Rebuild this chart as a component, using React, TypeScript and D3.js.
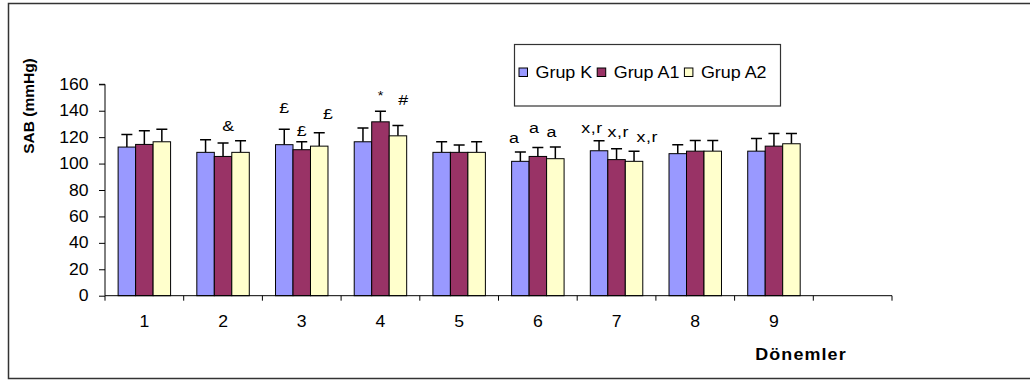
import React, { useRef, useEffect } from 'react';
import * as d3 from 'd3';

// periods on the x axis (the 10th slot is left empty, as in the original sheet)
const categories = ['1', '2', '3', '4', '5', '6', '7', '8', '9', ''];
const groups = ['Grup K', 'Grup A1', 'Grup A2'];
const colors = ['#9999FF', '#993366', '#FFFFCC'];

// mean SAB (mmHg) per period
const grupK = [112.5, 108.5, 114.3, 116.5, 108.5, 101.7, 109.7, 107.5, 109.4];
const grupA1 = [114.5, 105.4, 110.5, 131.6, 108.5, 105.4, 103, 109.4, 113.2];
const grupA2 = [116.5, 108.5, 113.2, 121, 108.5, 103.7, 101.7, 109.4, 115];

// upper end of the error bars
const errK = [122, 118, 126, 127, 116.5, 108.7, 117.3, 114.3, 119];
const errA1 = [124.8, 115.5, 116.5, 139.6, 114, 112.2, 111.2, 117.5, 122.8];
const errA2 = [126, 117.3, 123.3, 128.8, 116.5, 112.5, 109.4, 117.5, 122.8];

const yTicks = [0, 20, 40, 60, 80, 100, 120, 140, 160];

// significance marks: period, group, baseline level (mmHg), nudge in bar widths
const marks = [
  { cat: '2', g: 1, level: 125, nudge: 0.3, text: '&' },
  { cat: '3', g: 0, level: 138, nudge: 0, text: '£' },
  { cat: '3', g: 1, level: 121, nudge: 0, text: '£' },
  { cat: '3', g: 2, level: 134, nudge: 0.5, text: '£' },
  { cat: '4', g: 1, level: 148, nudge: 0, text: '*' },
  { cat: '4', g: 2, level: 144, nudge: 0.3, text: '#' },
  { cat: '6', g: 0, level: 115.6, nudge: -0.36, text: 'a' },
  { cat: '6', g: 1, level: 123, nudge: -0.23, text: 'a' },
  { cat: '6', g: 2, level: 120, nudge: -0.22, text: 'a' },
  { cat: '7', g: 0, level: 123, nudge: -0.4, text: 'x,r' },
  { cat: '7', g: 1, level: 120, nudge: 0.1, text: 'x,r' },
  { cat: '7', g: 2, level: 116, nudge: 0.75, text: 'x,r' },
];

const FONT = '"Liberation Sans", Arial, sans-serif';
const SX = 1.1; // the source picture is a bit wider than tall

const App = () => {
  const svgRef = useRef(null);

  useEffect(() => {
    const width = 1030;
    const height = 381;
    const left = 105, right = 892, top = 84.3, bottom = 295.7;

    const svg = d3.select(svgRef.current);
    svg.selectAll('*').remove();
    svg.attr('width', width).attr('height', height);

    // outer chart area border (right edge runs off the picture)
    svg.append('rect')
      .attr('x', 8.5).attr('y', 3.5)
      .attr('width', 1040).attr('height', 375)
      .attr('fill', 'white')
      .attr('stroke', '#333').attr('stroke-width', 1.5);

    const x = d3.scaleBand().domain(categories).range([left, right]);
    const bw = x.bandwidth() / 4.5; // Excel gap width 150%
    const xs = d3.scaleBand().domain(groups).range([0, bw * 3]);
    const groupOffset = (x.bandwidth() - bw * 3) / 2;
    const y = d3.scaleLinear().domain([0, 160]).range([bottom, top]);
    const barX = (cat, name) => x(cat) + groupOffset + xs(name);

    const values = [grupK, grupA1, grupA2];
    const errors = [errK, errA1, errA2];

    groups.forEach((name, gi) => {
      const data = values[gi].map((v, i) => ({ cat: categories[i], v, e: errors[gi][i] }));
      const grp = svg.append('g');

      // error bars (upper only)
      grp.selectAll('path')
        .data(data)
        .enter()
        .append('path')
        .attr('d', d => {
          const cx = barX(d.cat, name) + bw / 2;
          return `M${cx},${y(d.v)}V${y(d.e)}M${cx - 5.5},${y(d.e)}H${cx + 5.5}`;
        })
        .attr('stroke', '#000').attr('stroke-width', 1.5).attr('fill', 'none');

      grp.selectAll('rect')
        .data(data)
        .enter()
        .append('rect')
        .attr('x', d => barX(d.cat, name))
        .attr('y', d => y(d.v))
        .attr('width', bw)
        .attr('height', d => y(0) - y(d.v))
        .attr('fill', colors[gi])
        .attr('stroke', '#000').attr('stroke-width', 1);
    });

    // y axis
    const yAxis = svg.append('g')
      .attr('transform', `translate(${left},0)`)
      .call(d3.axisLeft(y).tickValues(yTicks).tickSize(6).tickPadding(9));
    yAxis.select('.domain').attr('stroke', '#000').attr('d', `M-6,${y(160)}H0V${y(0)}`);
    yAxis.selectAll('.tick line').attr('stroke', '#000');
    yAxis.selectAll('text')
      .attr('font-family', FONT).attr('font-size', 16).attr('fill', '#000')
      .attr('transform', `scale(${SX},1)`);

    // x axis
    const xAxis = svg.append('g')
      .attr('transform', `translate(0,${bottom})`)
      .call(d3.axisBottom(x).tickSize(0).tickPadding(19.5));
    xAxis.select('.domain').attr('stroke', '#000').attr('d', `M${left},0H${right}`);
    xAxis.selectAll('text')
      .attr('font-family', FONT).attr('font-size', 16).attr('fill', '#000')
      .attr('transform', `scale(${SX},1)`);
    // tick marks sit between categories
    const bounds = categories.map(c => x(c)).concat([right]);
    xAxis.selectAll('line.sep')
      .data(bounds)
      .enter()
      .append('line')
      .attr('class', 'sep')
      .attr('x1', d => d).attr('x2', d => d)
      .attr('y1', 0).attr('y2', 5)
      .attr('stroke', '#000');

    // significance marks
    svg.append('g')
      .selectAll('text')
      .data(marks)
      .enter()
      .append('text')
      .attr('transform', d => {
        const cx = barX(d.cat, groups[d.g]) + bw / 2 + d.nudge * bw;
        return `translate(${cx},${y(d.level)}) scale(1.15,1)`;
      })
      .attr('text-anchor', 'middle')
      .attr('font-family', FONT)
      .attr('font-size', d => (d.text === '*' ? 12.5 : 15.5))
      .attr('letter-spacing', d => (d.text === 'x,r' ? 0.5 : 0))
      .text(d => d.text);

    // axis titles
    svg.append('text')
      .attr('transform', 'translate(34,106) rotate(-90)')
      .attr('text-anchor', 'middle')
      .attr('font-family', FONT)
      .attr('font-weight', 'bold')
      .attr('font-size', 15.5)
      .text('SAB (mmHg)');

    svg.append('text')
      .attr('transform', `translate(801,360) scale(1.12,1)`)
      .attr('text-anchor', 'middle')
      .attr('font-family', FONT)
      .attr('font-weight', 'bold')
      .attr('font-size', 16)
      .attr('letter-spacing', 1)
      .text('Dönemler');

    // legend
    const legend = svg.append('g').attr('transform', 'translate(514.5,44.5)');
    legend.append('rect')
      .attr('width', 266).attr('height', 61.5)
      .attr('fill', 'white').attr('stroke', '#333').attr('stroke-width', 1.2);
    let cursor = 4.5;
    groups.forEach((name, gi) => {
      legend.append('rect')
        .attr('x', cursor).attr('y', 23.5)
        .attr('width', 8.5).attr('height', 8.5)
        .attr('fill', colors[gi]).attr('stroke', '#000');
      cursor += 16.5;
      const t = legend.append('text')
        .attr('transform', `translate(${cursor},33.5) scale(1.12,1)`)
        .attr('font-family', FONT)
        .attr('font-size', 16)
        .text(name);
      cursor += t.node().getComputedTextLength() * 1.12 + 5;
    });
  }, []);

  return <svg ref={svgRef} style={{ position: 'absolute', left: 0, top: 0 }} />;
};

export default App;
